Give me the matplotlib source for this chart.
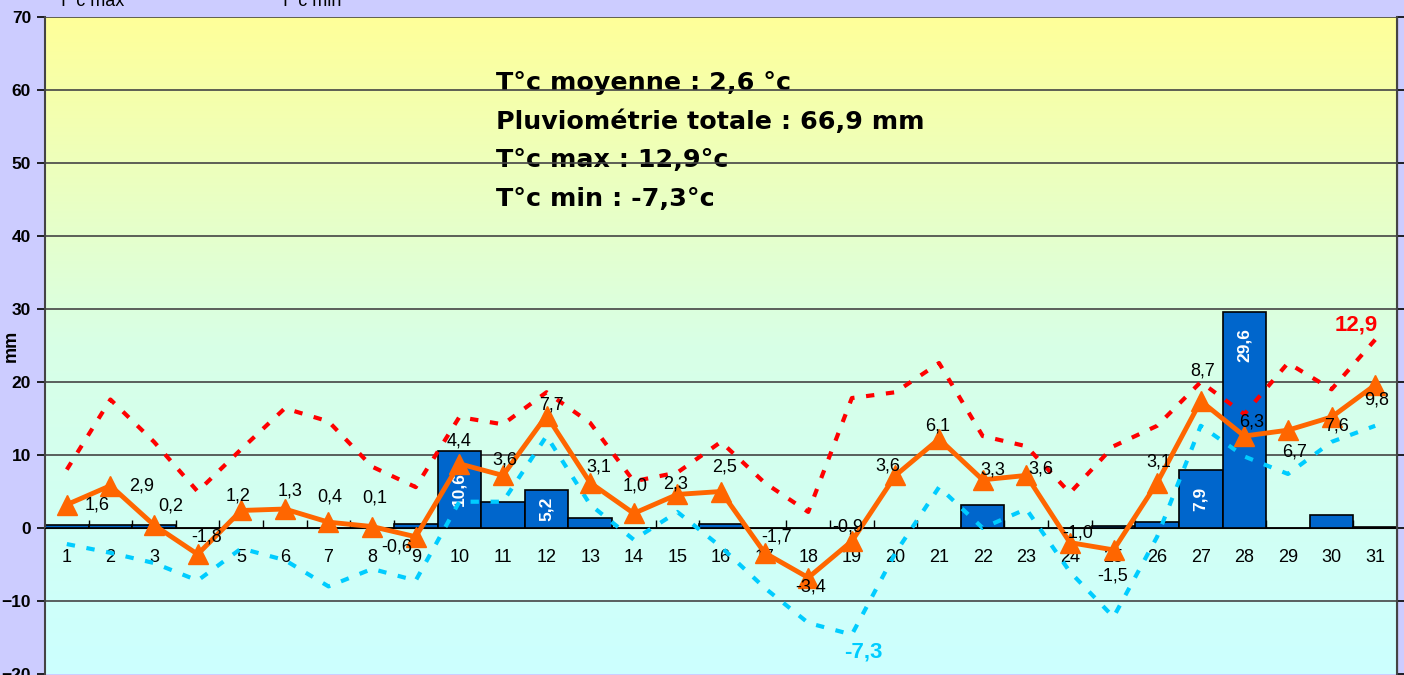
import numpy as np
import matplotlib
matplotlib.use("Agg")
import matplotlib.pyplot as plt
from matplotlib.colors import LinearSegmentedColormap

plt.rcParams['font.family'] = ['Liberation Sans', 'DejaVu Sans']

days = list(range(1, 32))
rain = [0.4, 0.4, 0.4, 0, 0, 0, 0, 0, 0.6, 10.6, 3.6, 5.2, 1.4, 0, 0, 0.6,
        0, 0, 0, 0, 0, 3.1, 0, 0, 0.3, 0.8, 7.9, 29.6, 0, 1.8, 0.2]
t_avg = [1.6, 2.9, 0.2, -1.8, 1.2, 1.3, 0.4, 0.1, -0.6, 4.4, 3.6, 7.7, 3.1, 1.0, 2.3, 2.5,
         -1.7, -3.4, -0.9, 3.6, 6.1, 3.3, 3.6, -1.0, -1.5, 3.1, 8.7, 6.3, 6.7, 7.6, 9.8]
t_max = [4.0, 8.8, 5.9, 2.5, 5.4, 8.2, 7.3, 4.2, 2.8, 7.6, 7.1, 9.3, 7.2, 3.2, 3.8, 5.9,
         3.1, 1.1, 8.9, 9.3, 11.3, 6.3, 5.6, 2.4, 5.6, 7.0, 10.0, 7.8, 11.3, 9.5, 12.9]
t_min = [-1.1, -1.7, -2.4, -3.6, -1.4, -2.2, -4.0, -2.8, -3.6, 1.8, 1.8, 6.3, 1.6, -0.8, 1.1, -1.3,
         -4.1, -6.5, -7.3, -1.7, 2.8, 0.0, 1.3, -3.0, -6.1, -0.6, 7.0, 4.9, 3.7, 5.9, 7.0]
summary = ["T°c moyenne : 2,6 °c", "Pluviométrie totale : 66,9 mm",
           "T°c max : 12,9°c", "T°c min : -7,3°c"]

# label offsets (pixels, x right / y up) for the average labels, as placed in the original
avg_off = [(30, 0), (31, 0), (17, 19), (9, 17), (-3, 14), (5, 18), (1, 25), (3, 29), (-19, -10),
           (0, 23), (2, 15), (5, 11), (9, 16), (1, 27), (-2, 10), (4, 24), (12, 16), (2, -9),
           (-4, 14), (-8, 9), (-1, 13), (10, 10), (15, 6), (8, 10), (-1, -26), (2, 21),
           (2, 30), (7, 14), (7, -22), (5, -9), (1, -15)]

def fmt(v):
    return f"{v:.1f}".replace(".", ",")

fig = plt.figure(figsize=(14.04, 6.75), dpi=100, facecolor="#CCCCFF")
ax = fig.add_axes([45 / 1404, 1 / 675, 1352 / 1404, 657 / 675])
ax.set_xlim(0.5, 31.5)
ax.set_ylim(-20, 70)

grad = LinearSegmentedColormap.from_list("bg", ["#CCFFFF", "#D8FFE6", "#FFFF99"])
ax.imshow(np.linspace(0, 1, 256).reshape(-1, 1), extent=[0.5, 31.5, -20, 70],
          aspect="auto", cmap=grad, origin="lower", zorder=0)

for i, s in enumerate(summary):
    ax.text(0.3335, 0.9 - i * 0.059, s, transform=ax.transAxes, fontsize=18.3,
            fontweight="bold", family="DejaVu Sans", va="center", zorder=0.5)

for yv in range(-10, 80, 10):
    ax.axhline(yv, color="#444444", lw=1.2, zorder=1)

ax.bar(days, rain, width=1.0, color="#0066CC", edgecolor="black", lw=1.2, zorder=2)
for d, r in zip(days, rain):
    if r > 5:
        if r > 20:
            ax.annotate(fmt(r), (d, r), xytext=(0, -16), textcoords="offset pixels",
                        rotation=90, ha="center", va="top", color="white",
                        fontsize=12.5, fontweight="bold", zorder=3)
        else:
            ax.text(d, r / 2, fmt(r), rotation=90, ha="center", va="center",
                    color="white", fontsize=12.5, fontweight="bold", zorder=3)

ax.set_yticks(range(-20, 80, 10))
ax.tick_params(axis="y", labelsize=12.5, length=6, width=1.2, pad=4)
for lab in ax.get_yticklabels():
    lab.set_fontweight("bold")
ax.set_ylabel("mm", fontsize=13, fontweight="bold")
ax.yaxis.set_label_coords(-0.019, 0.5)

ax.spines["bottom"].set_position(("data", 0))
ax.spines["bottom"].set_zorder(2.5)
ax.spines["top"].set_visible(False)
ax.spines["left"].set_color("#444444")
ax.spines["left"].set_linewidth(1.5)
ax.set_xticks(days)
ax.set_xticklabels([str(d) for d in days])
ax.set_xticks(np.arange(1.5, 31, 1), minor=True)
ax.tick_params(axis="x", which="major", length=0, pad=15, labelsize=13)
ax.tick_params(axis="x", which="minor", direction="in", length=6, width=1)

ax2 = ax.twinx()
ax2.set_ylim(-10, 35)
ax2.set_yticks(range(-10, 40, 5))
ax2.set_yticklabels([])
ax2.tick_params(axis="y", length=6, width=1.2)
ax2.spines["right"].set_color("#444444")
ax2.spines["right"].set_linewidth(1.5)
for sp in ["top", "bottom", "left"]:
    ax2.spines[sp].set_visible(False)

ax2.plot(days, t_max, color="#FF0000", lw=3, linestyle=(0, (2, 2.8)), zorder=3)
ax2.plot(days, t_min, color="#00CCFF", lw=3, linestyle=(0, (2, 2.8)), zorder=3)
ax2.plot(days, t_avg, color="#FF6600", lw=3.5, marker="^", markersize=14, zorder=4)

for d, v, (dx, dy) in zip(days, t_avg, avg_off):
    ax2.annotate(fmt(v), (d, v), xytext=(dx, dy), textcoords="offset pixels",
                 ha="center", va="center", fontsize=13, color="black", zorder=5)

imax = int(np.argmax(t_max))
imin = int(np.argmin(t_min))
ax2.annotate(fmt(t_max[imax]), (days[imax], t_max[imax]), xytext=(-19, 15),
             textcoords="offset pixels", ha="center", va="center", fontsize=16,
             fontweight="bold", color="#FF0000", zorder=5)
ax2.annotate(fmt(t_min[imin]), (days[imin], t_min[imin]), xytext=(11, -17),
             textcoords="offset pixels", ha="center", va="center", fontsize=16,
             fontweight="bold", color="#00CCFF", zorder=5)

fig.text(58 / 1404, 1 - 6 / 675, "T°c max", fontsize=13, va="baseline")
fig.text(280 / 1404, 1 - 6 / 675, "T°c min", fontsize=13, va="baseline")

fig.savefig("out.png", dpi=100, facecolor=fig.get_facecolor())
